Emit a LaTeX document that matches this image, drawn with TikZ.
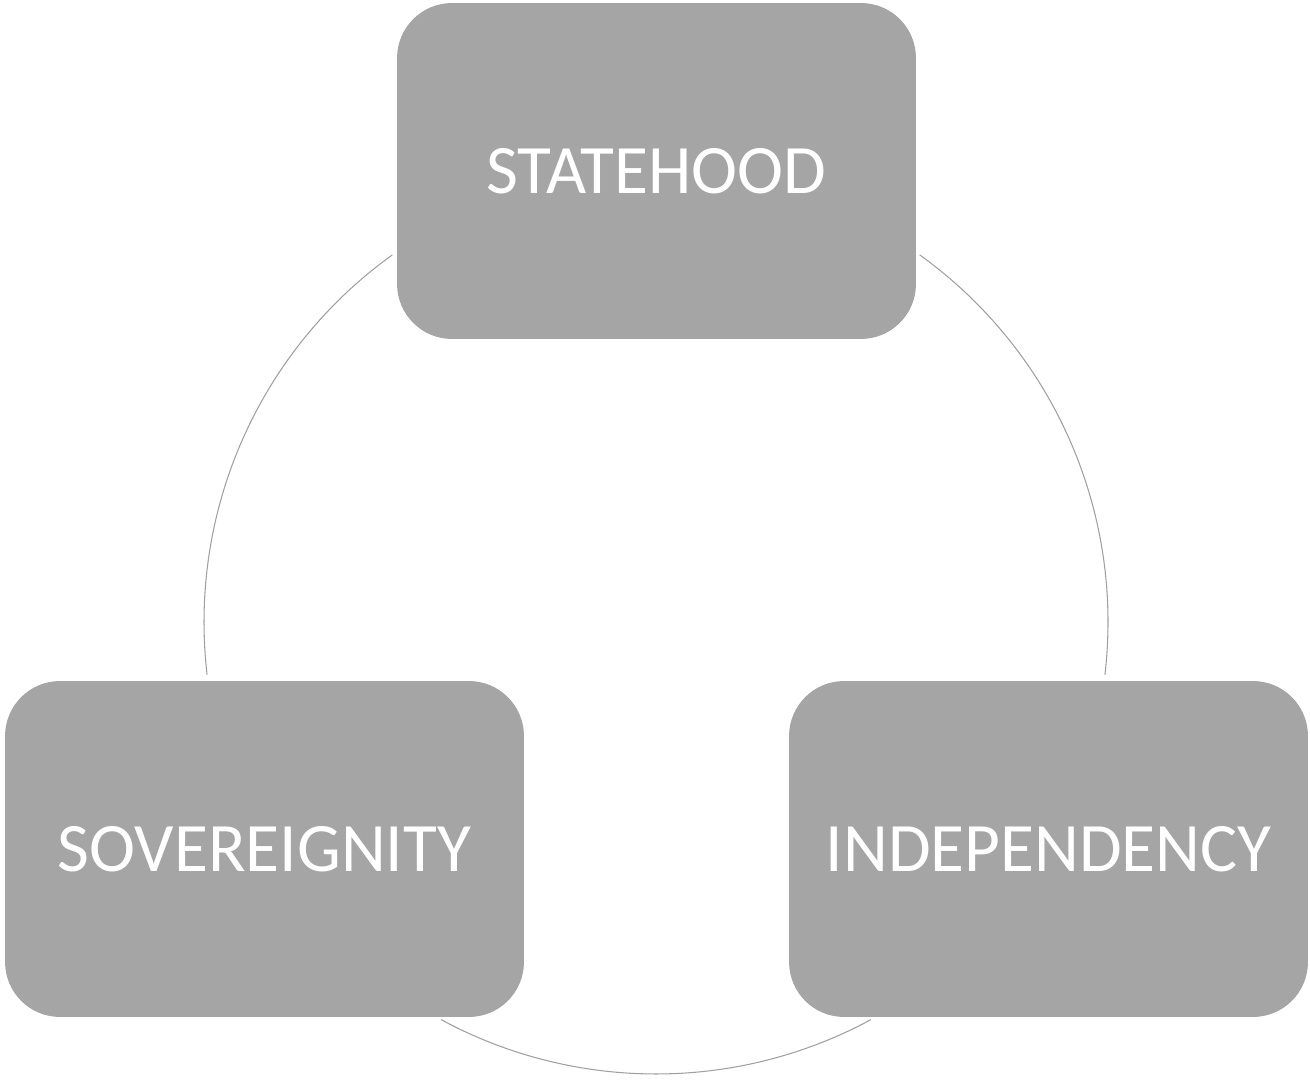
\documentclass[tikz,border=0pt]{standalone}
\usepackage{fontspec}
\setmainfont{Carlito}
\usetikzlibrary{calc}
\definecolor{boxgray}{HTML}{A5A5A5}
\definecolor{linkgray}{HTML}{A0A0A0}
\begin{document}
\begin{tikzpicture}[x=0.02cm,y=0.02cm,
  cyclebox/.style={draw=none, fill=boxgray, rounded corners=1.1cm,
    minimum width=10.38cm, minimum height=6.72cm, inner sep=0pt,
    text=white, font=\fontsize{39.5}{47}\selectfont},
  cyclelink/.style={draw=linkgray, line width=0.6pt}]
\useasboundingbox (0,0) rectangle (1310,1079);
% ring centre
\coordinate (c) at (656,457);
% the three stages
\node[cyclebox] (state) at (656.5,908) {STATEHOOD};
\node[cyclebox] (sov)   at (264.5,230) {SOVEREIGNITY};
\node[cyclebox] (indep) at (1048.5,230) {INDEPENDENCY};
% start points of the ring arcs, just outside the boxes
\coordinate (stateR) at ($(c)+(54.3:452)$);
\coordinate (indepB) at ($(c)+(298.4:452)$);
\coordinate (sovT)   at ($(c)+(186.7:452)$);
% arcs of the ring between the boxes
\draw[cyclelink] (stateR) arc[start angle=54.3, end angle=-6.7, radius=452];
\draw[cyclelink] (indepB) arc[start angle=298.4, end angle=241.6, radius=452];
\draw[cyclelink] (sovT) arc[start angle=186.7, end angle=125.7, radius=452];
\end{tikzpicture}
\end{document}
